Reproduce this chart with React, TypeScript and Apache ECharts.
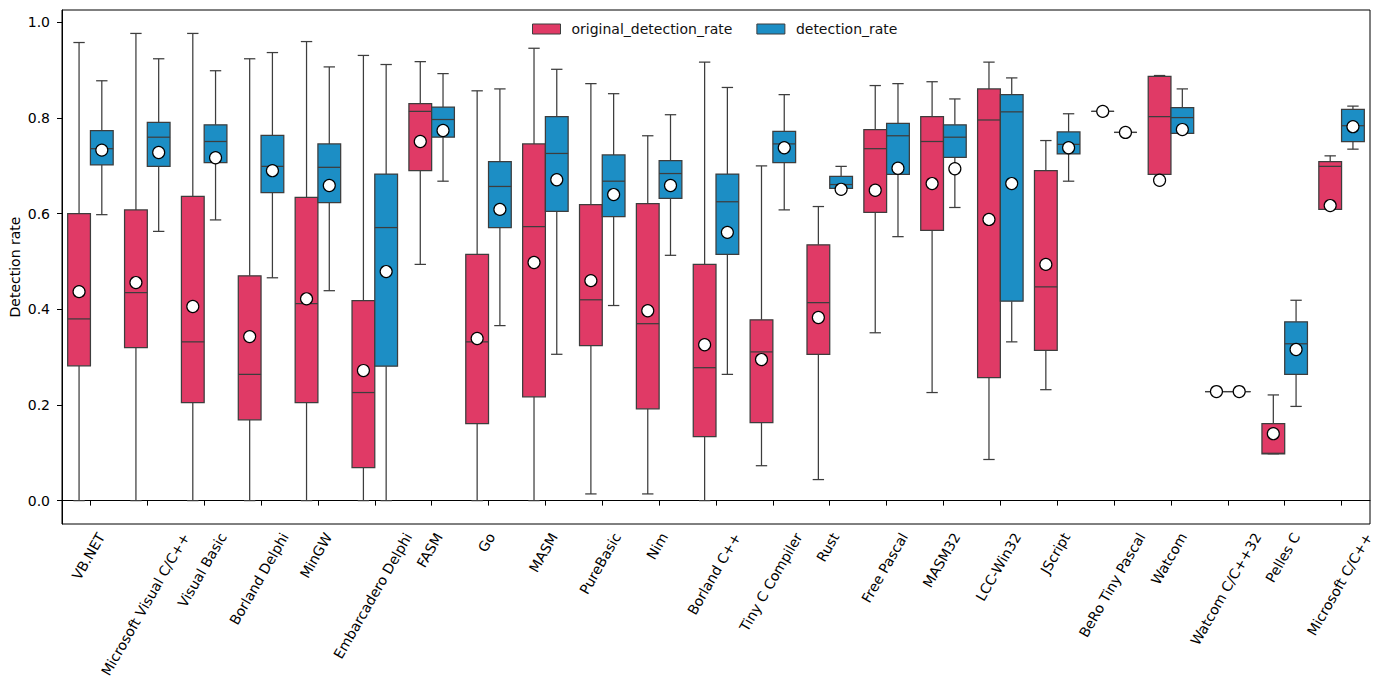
import React, { useEffect, useRef } from "react";
import * as echarts from "echarts";

const categories = [
  "VB.NET", "Microsoft Visual C/C++", "Visual Basic", "Borland Delphi", "MinGW",
  "Embarcadero Delphi", "FASM", "Go", "MASM", "PureBasic", "Nim", "Borland C++",
  "Tiny C Compiler", "Rust", "Free Pascal", "MASM32", "LCC-Win32", "JScript",
  "BeRo Tiny Pascal", "Watcom", "Watcom C/C++32", "Pelles C", "Microsoft C/C++",
];

// original_detection_rate
const origMin = [0, 0, 0, 0, 0, 0, 0.494, 0, 0, 0.014, 0.014, 0, 0.073, 0.044, 0.351, 0.226, 0.086, 0.232, 0.814, 0.682, 0.228, 0.098, 0.609];
const origQ1 = [0.282, 0.32, 0.205, 0.169, 0.205, 0.069, 0.69, 0.161, 0.217, 0.324, 0.192, 0.134, 0.163, 0.306, 0.603, 0.565, 0.257, 0.314, 0.814, 0.682, 0.228, 0.098, 0.609];
const origMedian = [0.38, 0.435, 0.332, 0.264, 0.412, 0.226, 0.814, 0.332, 0.573, 0.42, 0.37, 0.278, 0.311, 0.414, 0.736, 0.751, 0.796, 0.447, 0.814, 0.803, 0.228, 0.099, 0.699];
const origQ3 = [0.6, 0.608, 0.636, 0.47, 0.634, 0.418, 0.83, 0.515, 0.746, 0.619, 0.621, 0.494, 0.378, 0.535, 0.776, 0.803, 0.861, 0.69, 0.814, 0.887, 0.228, 0.161, 0.709];
const origMax = [0.958, 0.977, 0.977, 0.924, 0.96, 0.931, 0.918, 0.857, 0.946, 0.872, 0.763, 0.917, 0.7, 0.615, 0.868, 0.876, 0.917, 0.753, 0.814, 0.889, 0.228, 0.221, 0.721];
const origMean = [0.437, 0.456, 0.406, 0.343, 0.422, 0.272, 0.751, 0.339, 0.498, 0.46, 0.397, 0.326, 0.295, 0.383, 0.649, 0.663, 0.588, 0.494, 0.814, 0.67, 0.228, 0.14, 0.617];

// detection_rate
const detMin = [0.598, 0.563, 0.587, 0.466, 0.439, 0, 0.668, 0.366, 0.306, 0.408, 0.513, 0.264, 0.608, 0.653, 0.552, 0.613, 0.332, 0.668, 0.77, 0.768, 0.228, 0.197, 0.735];
const detQ1 = [0.702, 0.699, 0.707, 0.644, 0.623, 0.281, 0.76, 0.571, 0.605, 0.594, 0.632, 0.515, 0.707, 0.653, 0.682, 0.718, 0.417, 0.725, 0.77, 0.768, 0.228, 0.264, 0.751];
const detMedian = [0.736, 0.76, 0.751, 0.699, 0.697, 0.571, 0.797, 0.657, 0.726, 0.668, 0.684, 0.625, 0.746, 0.661, 0.763, 0.76, 0.813, 0.745, 0.77, 0.801, 0.228, 0.328, 0.784];
const detQ3 = [0.774, 0.791, 0.786, 0.764, 0.746, 0.683, 0.823, 0.709, 0.803, 0.723, 0.711, 0.683, 0.772, 0.678, 0.789, 0.786, 0.849, 0.771, 0.77, 0.822, 0.228, 0.374, 0.818];
const detMax = [0.878, 0.924, 0.899, 0.937, 0.907, 0.912, 0.893, 0.861, 0.902, 0.851, 0.807, 0.864, 0.849, 0.699, 0.872, 0.84, 0.884, 0.809, 0.77, 0.861, 0.228, 0.419, 0.825];
const detMean = [0.733, 0.728, 0.717, 0.69, 0.659, 0.479, 0.774, 0.609, 0.671, 0.64, 0.659, 0.561, 0.738, 0.651, 0.695, 0.694, 0.663, 0.738, 0.77, 0.776, 0.228, 0.316, 0.782];

const yTicks = [0, 0.2, 0.4, 0.6, 0.8, 1.0];

const RED = "#E03A66";
const BLUE = "#1C8EC5";
const LINE = "#3d3d3d";
const FONT = "DejaVu Sans";
const Y_MIN = -0.0489;
const Y_MAX = 1.026;

function buildData(mn: number[], q1: number[], md: number[], q3: number[], mx: number[], mean: number[]) {
  return categories.map((_, i) => [i, mn[i], q1[i], md[i], q3[i], mx[i], mean[i]]);
}

function boxRender(offset: number, color: string) {
  return (_params: any, api: any) => {
    const i = api.value(0);
    const band = api.size([1, 0])[0];
    const cx = api.coord([i, 0])[0] + offset * band;
    const w = band * 0.4;
    const cap = w * 0.5;
    const y = (k: number) => api.coord([i, api.value(k)])[1];
    const yMin = y(1), yQ1 = y(2), yMed = y(3), yQ3 = y(4), yMax = y(5);
    const ls = { stroke: LINE, lineWidth: 1.25 };
    return {
      type: "group",
      children: [
        { type: "line", shape: { x1: cx, y1: yMin, x2: cx, y2: yQ1 }, style: ls },
        { type: "line", shape: { x1: cx, y1: yQ3, x2: cx, y2: yMax }, style: ls },
        { type: "line", shape: { x1: cx - cap / 2, y1: yMin, x2: cx + cap / 2, y2: yMin }, style: ls },
        { type: "line", shape: { x1: cx - cap / 2, y1: yMax, x2: cx + cap / 2, y2: yMax }, style: ls },
        { type: "rect", shape: { x: cx - w / 2, y: yQ3, width: w, height: yQ1 - yQ3 }, style: { fill: color, stroke: LINE, lineWidth: 1.25 } },
        { type: "line", shape: { x1: cx - w / 2, y1: yMed, x2: cx + w / 2, y2: yMed }, style: ls },
      ],
    };
  };
}

function meanRender(offset: number) {
  return (_params: any, api: any) => {
    const i = api.value(0);
    const band = api.size([1, 0])[0];
    const cx = api.coord([i, 0])[0] + offset * band;
    const cy = api.coord([i, api.value(6)])[1];
    return {
      type: "circle",
      shape: { cx, cy, r: 6 },
      style: { fill: "#ffffff", stroke: "#000000", lineWidth: 1.2 },
    };
  };
}

export default function App() {
  const ref = useRef<HTMLDivElement>(null);

  useEffect(() => {
    if (!ref.current) return;
    const chart = echarts.init(ref.current, undefined, { renderer: "svg" });
    const origData = buildData(origMin, origQ1, origMedian, origQ3, origMax, origMean);
    const detData = buildData(detMin, detQ1, detMedian, detQ3, detMax, detMean);

    const option: any = {
      animation: false,
      backgroundColor: "#ffffff",
      textStyle: { fontFamily: FONT },
      grid: {
        left: 62, right: 15, top: 10, bottom: 166,
        containLabel: false,
        outerBoundsMode: "none",
        show: true, borderColor: "#000", borderWidth: 1, backgroundColor: "transparent",
      },
      legend: {
        left: 527, top: 17, itemWidth: 28, itemHeight: 10, itemGap: 24,
        textStyle: { fontSize: 14, color: "#111", fontFamily: FONT, padding: [0, 0, 0, 6] },
        data: [
          { name: "original_detection_rate", icon: "rect", itemStyle: { color: RED, borderColor: LINE, borderWidth: 1 } },
          { name: "detection_rate", icon: "rect", itemStyle: { color: BLUE, borderColor: LINE, borderWidth: 1 } },
        ],
      },
      xAxis: {
        type: "category",
        data: categories,
        boundaryGap: true,
        axisLine: { show: true, lineStyle: { color: "#000", width: 1 } },
        axisTick: { show: true, alignWithLabel: true, interval: 0, length: 5, lineStyle: { color: "#000", width: 1 } },
        axisLabel: { show: false, interval: 0 },
        splitLine: { show: false },
      },
      yAxis: {
        type: "value",
        min: Y_MIN,
        max: Y_MAX,
        name: "Detection rate",
        nameLocation: "middle",
        nameGap: 40,
        nameMoveOverlap: false,
        nameTextStyle: { fontSize: 14, color: "#000", fontFamily: FONT },
        axisLine: { show: true, lineStyle: { color: "#000", width: 1 } },
        axisTick: { show: true, length: 5, customValues: yTicks, lineStyle: { color: "#000", width: 1 } },
        axisLabel: {
          customValues: yTicks, fontSize: 14, color: "#000", fontFamily: FONT, margin: 12,
          formatter: (v: number) => v.toFixed(1),
        },
        splitLine: { show: false },
      },
      series: [
        {
          type: "custom", name: "original_detection_rate", renderItem: boxRender(-0.2, RED),
          data: origData, encode: { x: 0, y: [1, 2, 3, 4, 5] }, itemStyle: { color: RED }, z: 2,
        },
        {
          type: "custom", name: "detection_rate", renderItem: boxRender(0.2, BLUE),
          data: detData, encode: { x: 0, y: [1, 2, 3, 4, 5] }, itemStyle: { color: BLUE }, z: 2,
        },
        {
          type: "custom", name: "original_mean", renderItem: meanRender(-0.2),
          data: origData, encode: { x: 0, y: 6 }, z: 5,
        },
        {
          type: "custom", name: "detection_mean", renderItem: meanRender(0.2),
          data: detData, encode: { x: 0, y: 6 }, z: 5,
        },
      ],
    };
    chart.setOption(option);

    // x tick labels, rotated 60deg with bounding box centred under each tick (matplotlib style)
    const canvas = document.createElement("canvas");
    const ctx = canvas.getContext("2d");
    const fontSize = 14;
    if (ctx) ctx.font = `${fontSize}px "${FONT}"`;
    const axisY = chart.convertToPixel({ yAxisIndex: 0 }, Y_MIN) as number;
    const lineH = 16;
    const s60 = Math.sin(Math.PI / 3);
    const c60 = Math.cos(Math.PI / 3);
    const labels = categories.map((c) => {
      const x = chart.convertToPixel({ xAxisIndex: 0 }, c) as number;
      const L = ctx ? ctx.measureText(c).width : c.length * 8;
      const bboxH = L * s60 + lineH * c60;
      const cy = axisY + 6 + bboxH / 2;
      return {
        type: "text",
        x: x - 2,
        y: cy,
        rotation: Math.PI / 3,
        silent: true,
        style: {
          text: c,
          fill: "#000",
          fontSize,
          fontFamily: FONT,
          align: "center",
          verticalAlign: "middle",
        },
      };
    });
    chart.setOption({ graphic: labels });

    return () => chart.dispose();
  }, []);

  return (
    <div
      ref={ref}
      style={{ position: "absolute", left: 0, top: 0, width: 1385, height: 690, background: "#fff" }}
    />
  );
}
